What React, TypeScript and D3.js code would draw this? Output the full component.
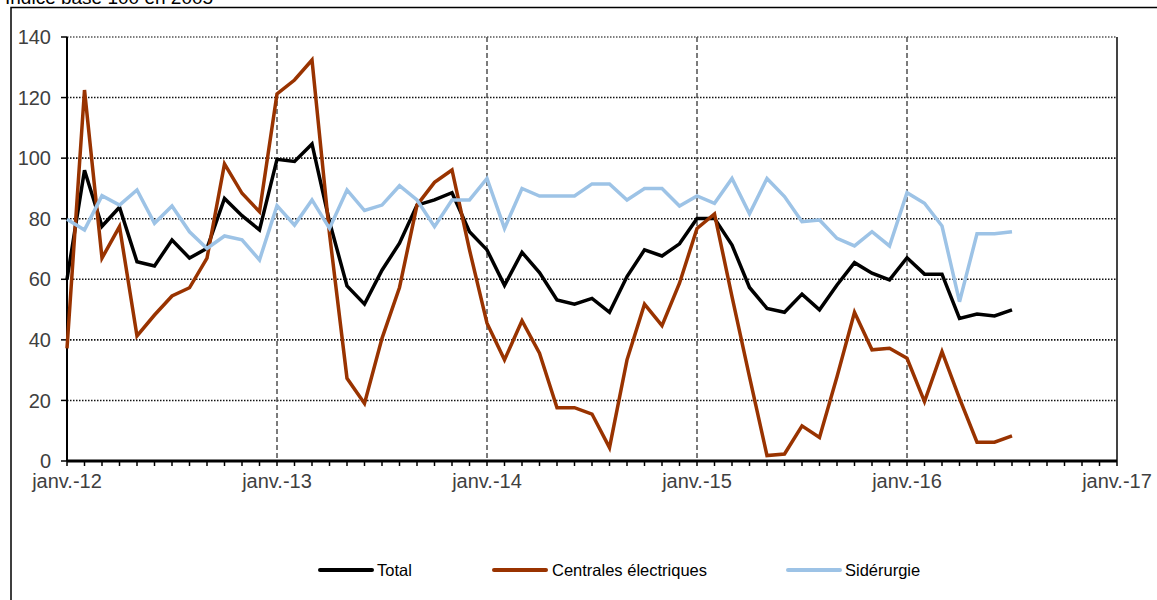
import React from "react";
import * as d3 from "d3";

const yearLabels = ["janv.-12", "janv.-13", "janv.-14", "janv.-15", "janv.-16", "janv.-17"];
const yTicks = [0, 20, 40, 60, 80, 100, 120, 140];

// Monthly values, Jan 2012 .. Jul 2016
const total = [
  60, 96, 77.5, 83.8, 65.8, 64.4, 73, 67, 70.2, 86.7, 81, 76.3,
  99.6, 98.9, 104.7, 79, 57.8, 51.8, 63, 71.9, 84.5, 86.2, 88.6, 75.7,
  69.7, 58, 68.9, 62.2, 53.2, 51.8, 53.7, 49.1, 60.9, 69.7, 67.7, 71.7,
  80.1, 80.1, 71.3, 57.3, 50.4, 49.1, 55.1, 49.9, 58.1, 65.5, 62, 59.8,
  67.1, 61.7, 61.7, 47.1, 48.5, 47.9, 49.9,
];
const centrales = [
  37.2, 122.5, 67, 77.4, 41.3, 48.2, 54.5, 57.2, 67, 98.1, 88.4, 82.3,
  121.2, 125.8, 132.4, 75, 27.3, 19, 40.5, 57.3, 84.5, 92, 96.1, 69.7,
  45.5, 33.4, 46.3, 35.6, 17.6, 17.6, 15.5, 4.4, 33.4, 51.8, 44.7, 58.7,
  76.8, 81.6, 54.3, 27.8, 1.8, 2.3, 11.6, 7.8, 27.8, 49.1, 36.7, 37.2,
  33.9, 19.6, 36.1, 20.7, 6.2, 6.2, 8.3,
];
const siderurgie = [
  79.8, 76.3, 87.6, 84.5, 89.5, 78.5, 84.2, 75.7, 70.2, 74.3, 73, 66.4,
  84.3, 77.9, 86.2, 76.8, 89.5, 82.7, 84.5, 90.9, 86.2, 77.4, 86.2, 86.2,
  93.3, 76.8, 90, 87.5, 87.5, 87.5, 91.5, 91.5, 86.2, 90, 90, 84.2,
  87.5, 85.1, 93.3, 81.6, 93.3, 87.3, 79, 79.6, 73.5, 71, 75.7, 71,
  88.6, 85.1, 77.6, 52.6, 75, 75, 75.7,
];

const seriesNames = ["Total", "Centrales électriques", "Sidérurgie"];
const seriesColors = ["#000000", "#993300", "#9DC3E6"];
const seriesData = [total, centrales, siderurgie];

export default function App() {
  const left = 67, right = 1117, top = 37, bottom = 461;
  const x = d3.scaleLinear().domain([0, 60]).range([left, right]);
  const y = d3.scaleLinear().domain([0, 140]).range([bottom, top]);
  const line = d3
    .line<number>()
    .x((_, i) => x(i))
    .y((d) => y(d));
  const months = d3.range(0, 61);
  const font = "'Liberation Sans', Arial, sans-serif";

  const legendItems = [
    { lx: 320, tx: 377 },
    { lx: 494, tx: 552 },
    { lx: 788, tx: 845 },
  ];

  return (
    <svg
      width={1157}
      height={600}
      style={{ position: "absolute", left: 0, top: 0, background: "#fff" }}
      fontFamily={font}
    >
      <rect x={0} y={0} width={1157} height={600} fill="#fff" />
      <text x={5} y={4} fontSize={19} fill="#000">
        Indice base 100 en 2005
      </text>
      <rect x={11} y={7.5} width={1200} height={700} fill="none" stroke="#000" strokeWidth={1.5} />

      {/* horizontal grid */}
      {yTicks.filter((t) => t > 0).map((t) => (
        <line
          key={"g" + t}
          x1={left}
          x2={right}
          y1={y(t)}
          y2={y(t)}
          stroke={t === 140 ? "#555" : "#111"}
          strokeWidth={1.6}
          strokeDasharray="1.5 1.5"
        />
      ))}
      {/* vertical year grid */}
      {[12, 24, 36, 48].map((m) => (
        <line
          key={"v" + m}
          x1={x(m)}
          x2={x(m)}
          y1={top}
          y2={bottom}
          stroke="#444"
          strokeWidth={1.4}
          strokeDasharray="5 3"
        />
      ))}
      <line x1={right} x2={right} y1={top} y2={bottom} stroke="#444" strokeWidth={2} />

      {/* y axis */}
      <line x1={left} x2={left} y1={top} y2={bottom} stroke="#000" strokeWidth={2} />
      {yTicks.map((t) => (
        <g key={"yt" + t}>
          <line x1={left - 6} x2={left} y1={y(t)} y2={y(t)} stroke="#000" strokeWidth={1.5} />
          <text
            x={51}
            y={y(t)}
            dy="0.36em"
            textAnchor="end"
            fontSize={20}
            fill="#404040"
          >
            {t}
          </text>
        </g>
      ))}

      {/* series */}
      {seriesData.map((s, k) => (
        <path
          key={"s" + k}
          d={line(s) || ""}
          fill="none"
          stroke={seriesColors[k]}
          strokeWidth={3.5}
          strokeLinejoin="miter"
        />
      ))}

      {/* x axis */}
      {months.map((m) => (
        <line key={"mt" + m} x1={x(m)} x2={x(m)} y1={bottom} y2={bottom + 5} stroke="#000" strokeWidth={1.5} />
      ))}
      <line x1={left} x2={right} y1={bottom} y2={bottom} stroke="#000" strokeWidth={3} />
      {yearLabels.map((lab, i) => (
        <text
          key={lab}
          x={x(i * 12)}
          y={488}
          textAnchor="middle"
          fontSize={20}
          fill="#404040"
        >
          {lab}
        </text>
      ))}

      {/* legend */}
      {legendItems.map((it, k) => (
        <g key={"l" + k}>
          <line
            x1={it.lx}
            x2={it.lx + 52}
            y1={570}
            y2={570}
            stroke={seriesColors[k]}
            strokeWidth={4}
            strokeLinecap="round"
          />
          <text x={it.tx} y={576} fontSize={16.5} fill="#000">
            {seriesNames[k]}
          </text>
        </g>
      ))}
    </svg>
  );
}
